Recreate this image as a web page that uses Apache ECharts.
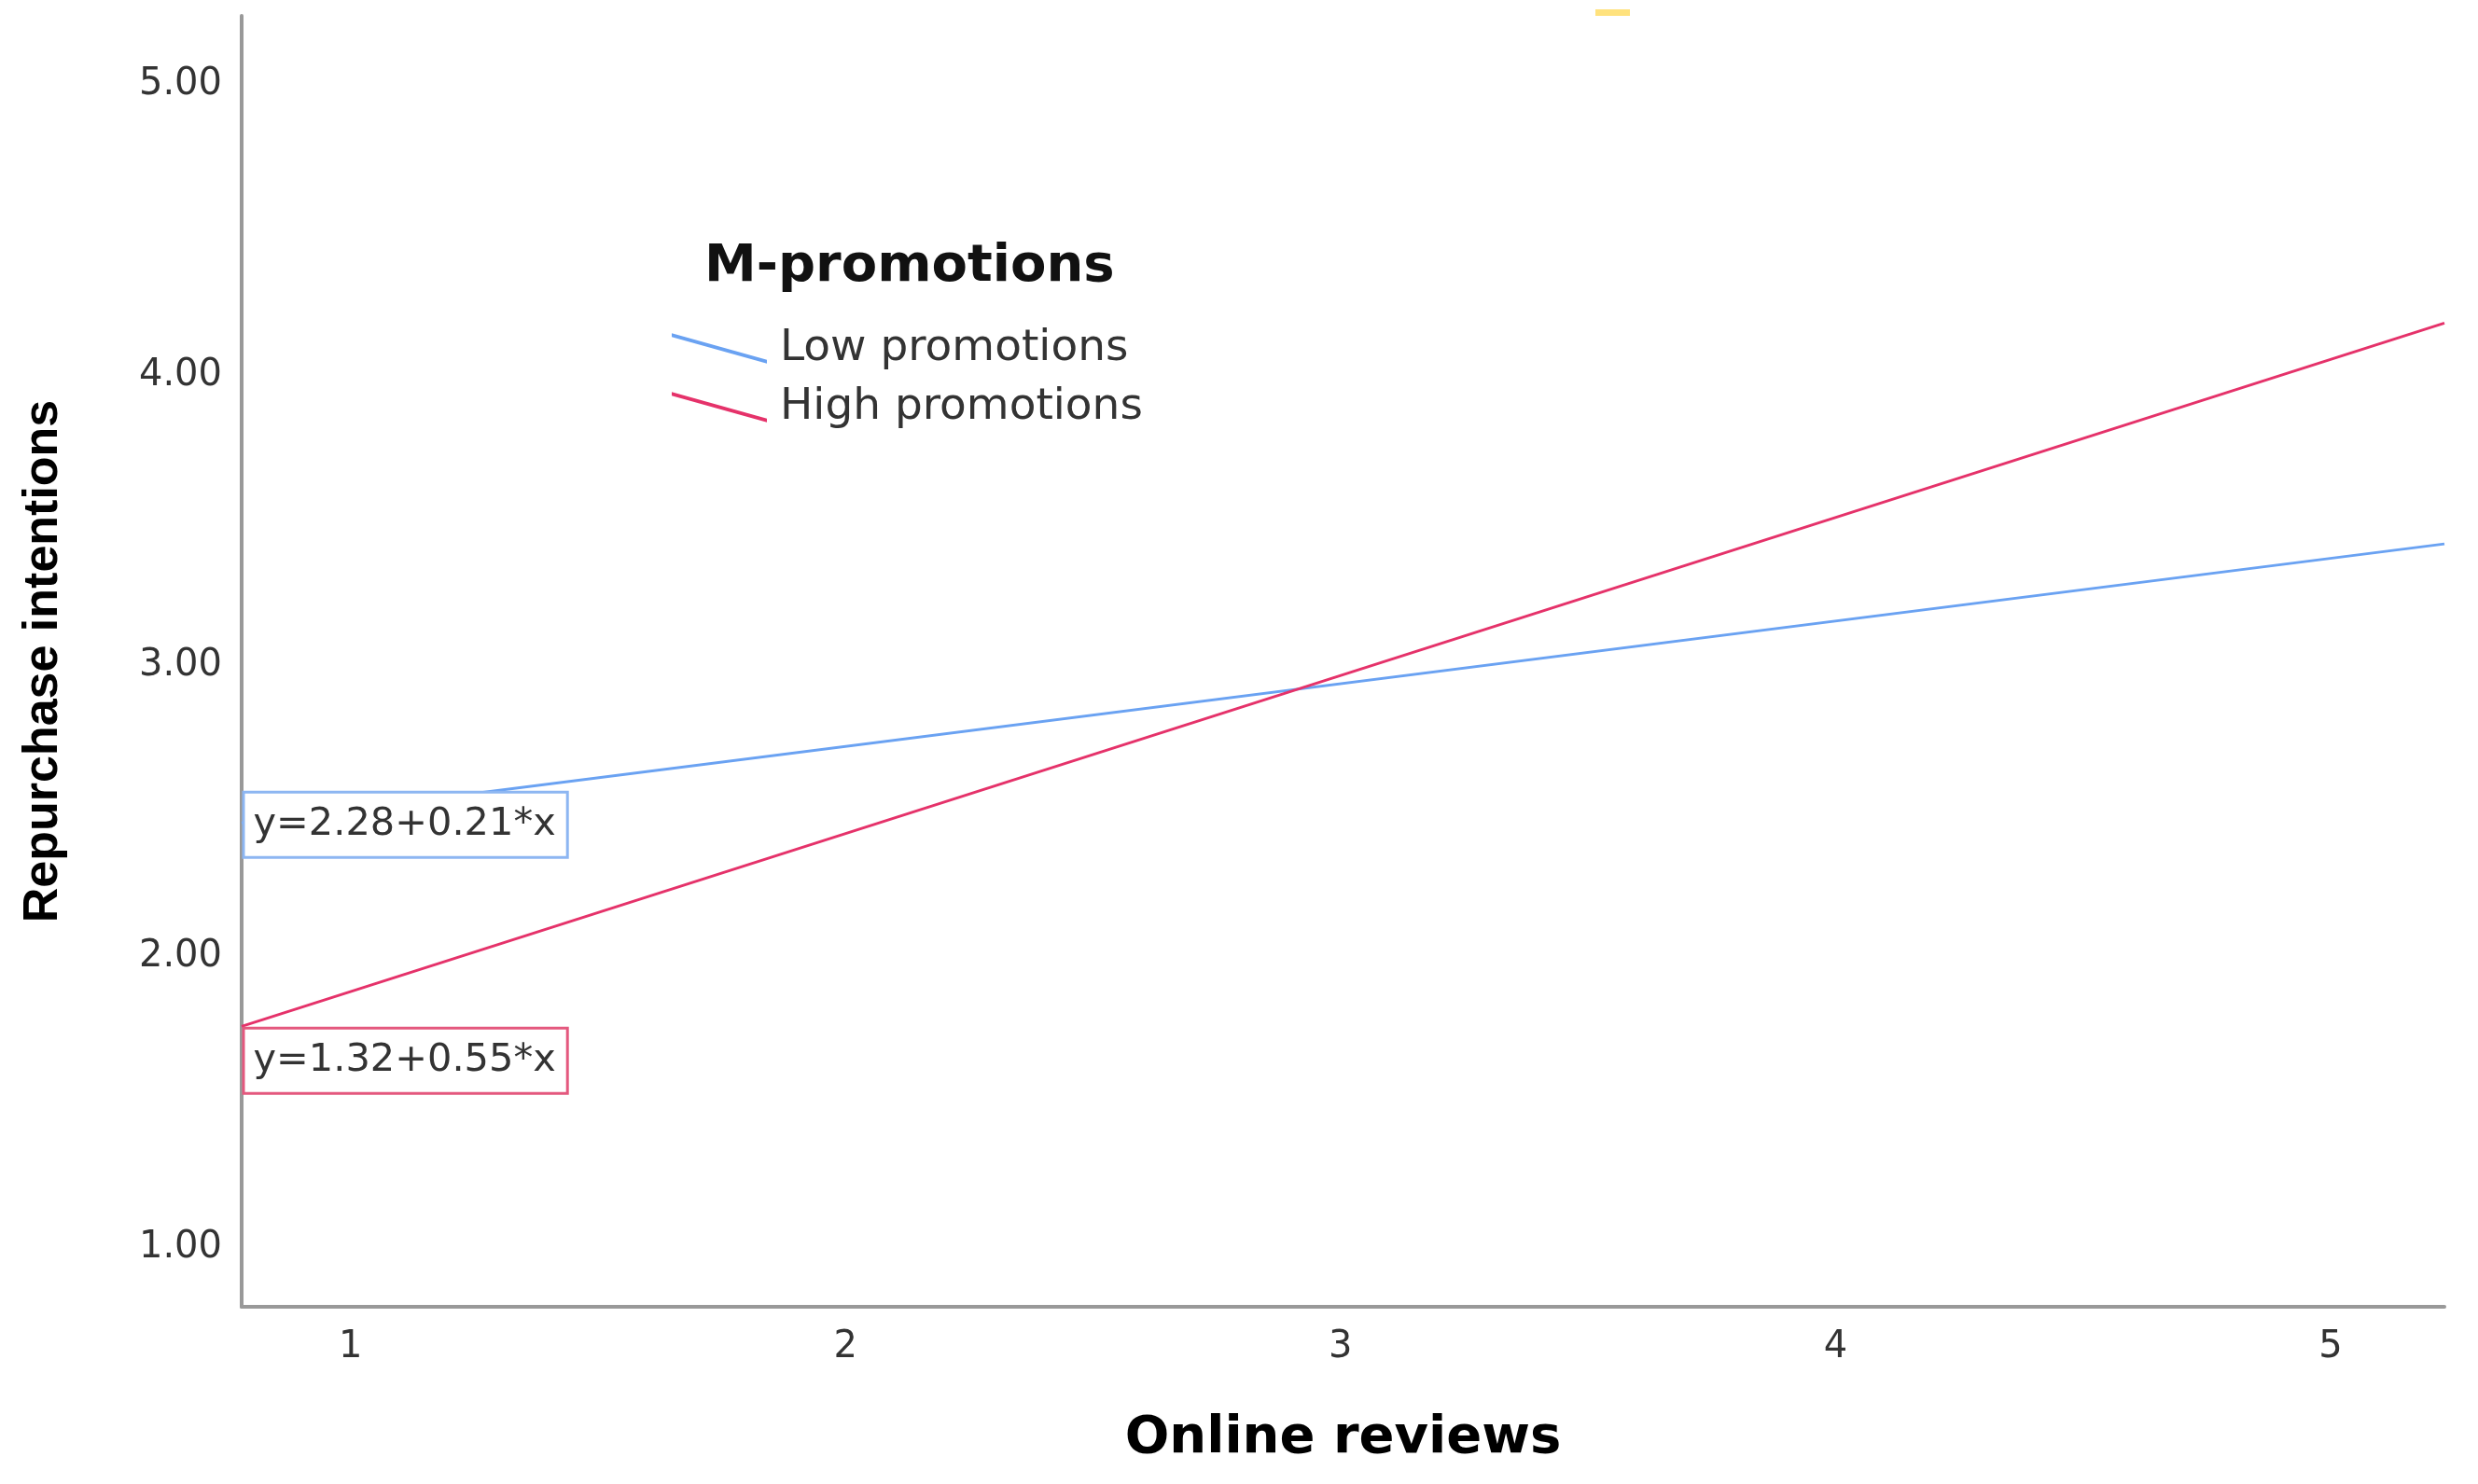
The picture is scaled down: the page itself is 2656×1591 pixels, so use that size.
<!DOCTYPE html>
<html>
<head>
<meta charset="utf-8">
<script src="https://cdn.jsdelivr.net/npm/echarts@6/dist/echarts.min.js"></script>
<style>
html,body{margin:0;padding:0;background:#fff;}
#chart{width:2656px;height:1591px;}
</style>
</head>
<body>
<div id="chart"></div>
<script>
// ---- data ----
const xRange = [0.78, 5.23];            // x extent of both fitted lines
const lowValues = [2.46, 3.42];         // Low promotions line at xRange ends
const highValues = [1.76, 4.18];        // High promotions line at xRange ends
const xTicks = [1, 2, 3, 4, 5];
const yTicks = [1, 2, 3, 4, 5];
const seriesNames = ['Low promotions', 'High promotions'];
const equations = ['y=2.28+0.21*x', 'y=1.32+0.55*x'];
const xAxisRange = [0.78, 5.23];
const yAxisRange = [0.795, 5.237];
const legendTitle = 'M-promotions';
const xTitle = 'Online reviews';
const yTitle = 'Repurchase intentions';

const BLUE = '#6aa2f2';
const RED = '#e5326a';
const FONT = 'DejaVu Sans';

function pairs(xs, ys) { return xs.map((x, i) => [x, ys[i]]); }

function eqLabel(text, border, offsetY) {
  return {
    show: true,
    position: 'right',
    distance: 3,
    offset: [0, offsetY],
    formatter: text,
    fontFamily: FONT,
    fontSize: 41.5,
    color: '#333',
    backgroundColor: '#fff',
    borderColor: border,
    borderWidth: 3,
    padding: [2, 11, 2, 9],
    lineHeight: 63
  };
}

const chart = echarts.init(document.getElementById('chart'));
chart.setOption({
  animation: false,
  backgroundColor: '#fff',
  title: {
    text: legendTitle,
    left: 750,
    top: 253,
    textStyle: { fontFamily: FONT, fontSize: 56, fontWeight: 'bold', color: '#111' }
  },
  legend: {
    orient: 'vertical',
    left: 715,
    top: 345,
    itemWidth: 102,
    itemHeight: 33,
    itemGap: 16,
    selectedMode: false,
    icon: 'path://M0,0 L100,28 L100,32 L0,4 Z',
    textStyle: { fontFamily: FONT, fontSize: 47, color: '#333', lineHeight: 47, padding: [0, 0, 0, 9] },
    data: seriesNames
  },
  grid: { left: 259, right: 36, top: 17, bottom: 190, containLabel: false },
  xAxis: {
    type: 'value',
    min: xAxisRange[0],
    max: xAxisRange[1],
    name: xTitle,
    nameLocation: 'middle',
    nameGap: 113,
    nameTextStyle: { fontFamily: FONT, fontSize: 56, fontWeight: 'bold', color: '#000' },
    axisLine: { show: true, lineStyle: { color: '#999', width: 4 } },
    axisTick: { show: false },
    splitLine: { show: false },
    axisLabel: {
      customValues: xTicks,
      margin: 24,
      fontFamily: FONT,
      fontSize: 40,
      color: '#333',
      formatter: v => String(v)
    }
  },
  yAxis: {
    type: 'value',
    min: yAxisRange[0],
    max: yAxisRange[1],
    name: yTitle,
    nameLocation: 'middle',
    nameRotate: 90,
    nameGap: 186,
    nameTextStyle: { fontFamily: 'Liberation Sans', fontSize: 52, fontWeight: 'bold', color: '#000' },
    axisLine: { show: true, lineStyle: { color: '#999', width: 4 } },
    axisTick: { show: false },
    splitLine: { show: false },
    axisLabel: {
      customValues: yTicks,
      margin: 21,
      fontFamily: FONT,
      fontSize: 40,
      color: '#333',
      formatter: v => v.toFixed(2)
    }
  },
  graphic: [
    { type: 'rect', shape: { x: 1710, y: 10, width: 37, height: 7 }, style: { fill: '#ffe27d' } }
  ],
  series: [
    {
      name: seriesNames[0],
      type: 'line',
      symbol: 'none',
      color: BLUE,
      lineStyle: { color: BLUE, width: 3 },
      data: pairs(xRange, lowValues),
      markPoint: {
        symbol: 'rect',
        symbolSize: 1,
        itemStyle: { color: 'rgba(0,0,0,0)' },
        label: eqLabel(equations[0], '#8db6f2', 2),
        data: [{ coord: [xRange[0], lowValues[0]] }]
      }
    },
    {
      name: seriesNames[1],
      type: 'line',
      symbol: 'none',
      color: RED,
      lineStyle: { color: RED, width: 3 },
      data: pairs(xRange, highValues),
      markPoint: {
        symbol: 'rect',
        symbolSize: 1,
        itemStyle: { color: 'rgba(0,0,0,0)' },
        label: eqLabel(equations[1], '#e4587e', 37),
        data: [{ coord: [xRange[0], highValues[0]] }]
      }
    }
  ]
});
</script>
</body>
</html>
